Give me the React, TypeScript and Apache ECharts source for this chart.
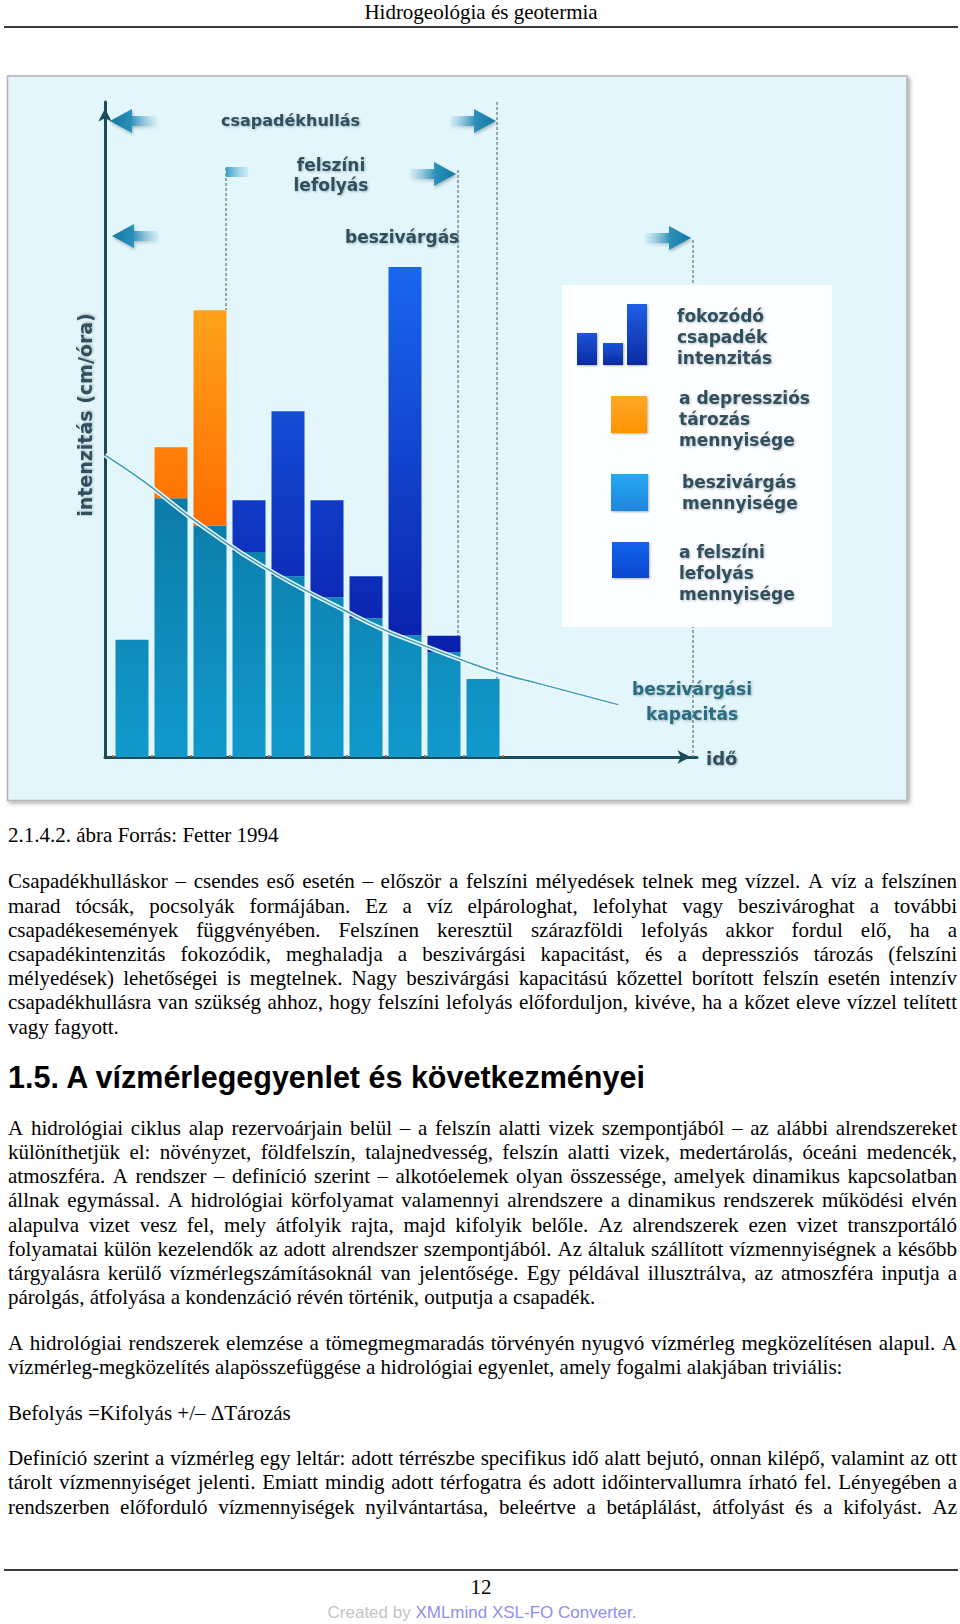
import React, { useEffect, useRef } from "react";
import * as echarts from "echarts";

// ---------------- chart data ----------------
const timeSteps = ["t1", "t2", "t3", "t4", "t5", "t6", "t7", "t8", "t9", "t10"];
const infiltration = [17.9, 39.5, 35.3, 31.3, 27.6, 24.4, 21.2, 18.6, 16.0, 11.9];
const depressionStorage = [0, 7.8, 32.9, 0, 0, 0, 0, 0, 0, 0];
const surfaceRunoff = [0, 0, 0, 7.9, 25.2, 14.8, 6.4, 56.2, 2.5, 0];
const capacityTime = [0, 1, 2, 3, 4, 5, 6, 7, 8, 9, 10, 11, 12, 13];
const capacityValues = [46.1, 42.0, 37.3, 33.0, 29.1, 25.7, 22.6, 19.6, 17.2, 14.9, 12.8, 11.2, 9.6, 8.0];

const seriesNames = ["beszivárgás mennyisége", "a depressziós tározás mennyisége", "a felszíni lefolyás mennyisége", "beszivárgási kapacitás"];
const legendLabels = ["fokozódó\ncsapadék\nintenzitás", "a depressziós\ntározás\nmennyisége", "beszivárgás\nmennyisége", "a felszíni\nlefolyás\nmennyisége"];
const phaseLabels = ["csapadékhullás", "felszíni\nlefolyás", "beszivárgás", "beszivárgási\nkapacitás"];
const axisTitleY = "intenzitás (cm/óra)";
const axisTitleX = "idő";

// ---------------- page text ----------------
const headerText = "Hidrogeológia és geotermia";
const caption = "2.1.4.2. ábra Forrás: Fetter 1994";
const para1 = [
  "Csapadékhulláskor – csendes eső esetén – először a felszíni mélyedések telnek meg vízzel. A víz a felszínen",
  "marad tócsák, pocsolyák formájában. Ez a víz elpárologhat, lefolyhat vagy beszivároghat a további",
  "csapadékesemények függvényében. Felszínen keresztül szárazföldi lefolyás akkor fordul elő, ha a",
  "csapadékintenzitás fokozódik, meghaladja a beszivárgási kapacitást, és a depressziós tározás (felszíni",
  "mélyedések) lehetőségei is megtelnek. Nagy beszivárgási kapacitású kőzettel borított felszín esetén intenzív",
  "csapadékhullásra van szükség ahhoz, hogy felszíni lefolyás előforduljon, kivéve, ha a kőzet eleve vízzel telített",
  "vagy fagyott.",
];
const heading = "1.5. A vízmérlegegyenlet és következményei";
const para2 = [
  "A hidrológiai ciklus alap rezervoárjain belül – a felszín alatti vizek szempontjából – az alábbi alrendszereket",
  "különíthetjük el: növényzet, földfelszín, talajnedvesség, felszín alatti vizek, medertárolás, óceáni medencék,",
  "atmoszféra. A rendszer – definíció szerint – alkotóelemek olyan összessége, amelyek dinamikus kapcsolatban",
  "állnak egymással. A hidrológiai körfolyamat valamennyi alrendszere a dinamikus rendszerek működési elvén",
  "alapulva vizet vesz fel, mely átfolyik rajta, majd kifolyik belőle. Az alrendszerek ezen vizet transzportáló",
  "folyamatai külön kezelendők az adott alrendszer szempontjából. Az általuk szállított vízmennyiségnek a később",
  "tárgyalásra kerülő vízmérlegszámításoknál van jelentősége. Egy példával illusztrálva, az atmoszféra inputja a",
  "párolgás, átfolyása a kondenzáció révén történik, outputja a csapadék.",
];
const para3 = [
  "A hidrológiai rendszerek elemzése a tömegmegmaradás törvényén nyugvó vízmérleg megközelítésen alapul. A",
  "vízmérleg-megközelítés alapösszefüggése a hidrológiai egyenlet, amely fogalmi alakjában triviális:",
];
const para4 = ["Befolyás =Kifolyás +/– ΔTározás"];
const para5 = [
  "Definíció szerint a vízmérleg egy leltár: adott térrészbe specifikus idő alatt bejutó, onnan kilépő, valamint az ott",
  "tárolt vízmennyiséget jelenti. Emiatt mindig adott térfogatra és adott időintervallumra írható fel. Lényegében a",
  "rendszerben előforduló vízmennyiségek nyilvántartása, beleértve a betáplálást, átfolyást és a kifolyást. Az",
];
const pageNumber = "12";
const footerA = "Created by ";
const footerB = "XMLmind XSL-FO Converter.";

// ---------------- helpers ----------------
const SERIF = "'Liberation Serif', 'Times New Roman', serif";
const SANS = "'Liberation Sans', Arial, sans-serif";
const VERD = "'DejaVu Sans', Verdana, sans-serif";
const BODY_SIZE = 21;
const LEFT = 8;
const RIGHT = 957;
const LH = 24.2;

let ctx: CanvasRenderingContext2D | null = null;
function measure(t: string, size: number, family: string, weight = "normal") {
  if (!ctx) ctx = document.createElement("canvas").getContext("2d");
  ctx!.font = `${weight} ${size}px ${family}`;
  return ctx!.measureText(t).width;
}

function textEl(text: string, x: number, y: number, extra: any = {}) {
  return {
    type: "text",
    x,
    y,
    silent: true,
    z: 20,
    style: {
      text,
      fill: "#000",
      fontSize: BODY_SIZE,
      fontFamily: SERIF,
      verticalAlign: "middle",
      textVerticalAlign: "middle",
      ...extra,
    },
  };
}

function lineEls(line: string, y: number, justify: boolean): any[] {
  if (!justify) return [textEl(line, LEFT, y)];
  const words = line.split(" ");
  const widths = words.map((w) => measure(w, BODY_SIZE, SERIF));
  const total = widths.reduce((a, b) => a + b, 0);
  const avail = RIGHT - LEFT;
  const spaceW = measure(" ", BODY_SIZE, SERIF);
  let gap = (avail - total) / (words.length - 1);
  let scale = 1;
  if (gap < spaceW * 0.6) {
    scale = avail / (total + spaceW * 0.6 * (words.length - 1));
    gap = spaceW * 0.6;
  }
  const children: any[] = [];
  let x = 0;
  words.forEach((w, i) => {
    children.push(textEl(w, x, 0));
    x += widths[i] + gap;
  });
  return [{ type: "group", x: LEFT, y, scaleX: scale, children }];
}

function paragraph(lines: string[], y0: number, lastJustified = false): any[] {
  const out: any[] = [];
  lines.forEach((l, i) => {
    const justify = i < lines.length - 1 || lastJustified;
    out.push(...lineEls(l, y0 + i * LH, justify));
  });
  return out;
}

function arrow(tipX: number, tipY: number, dir: number) {
  const hl = 22, hh = 12, th = 5, len = 46;
  const pts = [[0, 0], [hl, -hh], [hl, -th], [len, -th], [len, th], [hl, th], [hl, hh]].map(([dx, dy]) => [tipX - dir * dx, tipY + dy]);
  const stops = [
    { offset: 0, color: "#16789f" },
    { offset: 0.45, color: "#2a8fba" },
    { offset: 1, color: "rgba(150,205,228,0.15)" },
  ];
  return {
    type: "polygon",
    z: 6,
    silent: true,
    shape: { points: pts },
    style: {
      fill: dir < 0 ? new echarts.graphic.LinearGradient(0, 0, 1, 0, stops) : new echarts.graphic.LinearGradient(1, 0, 0, 0, stops),
      shadowBlur: 3,
      shadowColor: "rgba(0,0,0,0.25)",
      shadowOffsetX: 1,
      shadowOffsetY: 2,
    },
  };
}

function dashed(x: number, y1: number, y2: number) {
  return {
    type: "line",
    z: 1,
    silent: true,
    shape: { x1: x, y1, x2: x, y2 },
    style: { stroke: "#6f8f96", lineWidth: 1.5, lineDash: [3, 2] },
  };
}

const annoStyle = {
  fontFamily: VERD,
  fontWeight: "bold",
  fill: "#30505f",
  textShadowColor: "rgba(40,60,70,0.35)",
  textShadowBlur: 2,
  textShadowOffsetX: 1,
  textShadowOffsetY: 1,
};

function anno(text: string, x: number, y: number, size: number, extra: any = {}) {
  return {
    type: "text",
    x,
    y,
    z: 12,
    silent: true,
    style: { text, fontSize: size, ...annoStyle, verticalAlign: "middle", textVerticalAlign: "middle", ...extra },
  };
}

function vgrad(c1: string, c2: string) {
  return new echarts.graphic.LinearGradient(0, 0, 0, 1, [
    { offset: 0, color: c1 },
    { offset: 1, color: c2 },
  ]);
}

export default function App() {
  const ref = useRef<HTMLDivElement>(null);
  useEffect(() => {
    const chart = echarts.init(ref.current!, null, { renderer: "svg" });

    const tealGrad = { type: "linear", x: 0, y: 450, x2: 0, y2: 757, global: true, colorStops: [{ offset: 0, color: "#0b76a1" }, { offset: 1, color: "#1199cc" }] };
    const orangeGrad = { type: "linear", x: 0, y: 300, x2: 0, y2: 530, global: true, colorStops: [{ offset: 0, color: "#ffa51c" }, { offset: 1, color: "#ff6c00" }] };
    const blueGrad = { type: "linear", x: 0, y: 260, x2: 0, y2: 650, global: true, colorStops: [{ offset: 0, color: "#1a68ef" }, { offset: 1, color: "#0a20ac" }] };

    const capacityData = capacityTime.map((t, i) => [t, capacityValues[i]]);
    const dashOrNull = (arr: number[]) => arr.map((v) => (v ? v : "-"));

    const graphics: any[] = [
      // page header
      textEl(headerText, 481, 12, { align: "center", textAlign: "center" }),
      { type: "line", silent: true, z: 20, shape: { x1: 4, y1: 27, x2: 958, y2: 27 }, style: { stroke: "#3a3a3a", lineWidth: 2 } },
      // chart frame
      {
        type: "rect",
        z: -10,
        silent: true,
        shape: { x: 7.5, y: 76, width: 899.5, height: 724.5 },
        style: { fill: "#e2f6fc", stroke: "#b4b4b4", lineWidth: 1.5, shadowBlur: 4, shadowColor: "rgba(0,0,0,0.35)", shadowOffsetX: 2, shadowOffsetY: 2 },
      },
      // dashed guide lines
      dashed(226, 168, 310),
      dashed(458, 170, 636),
      dashed(497, 102, 679),
      dashed(693, 240, 757),
      // arrows
      arrow(110, 121, -1),
      arrow(112, 236, -1),
      arrow(496, 121, 1),
      arrow(456, 174, 1),
      arrow(691, 238, 1),
      {
        type: "rect",
        z: 6,
        silent: true,
        shape: { x: 226, y: 167, width: 22, height: 10 },
        style: { fill: new echarts.graphic.LinearGradient(0, 0, 1, 0, [{ offset: 0, color: "#3a9cc3" }, { offset: 1, color: "rgba(150,210,232,0.3)" }]) },
      },
      // phase labels
      anno(phaseLabels[0], 221, 120, 16),
      anno(phaseLabels[1], 331, 155, 17, { align: "center", textAlign: "center", verticalAlign: "top", textVerticalAlign: "top", lineHeight: 20 }),
      anno(phaseLabels[2], 345, 237, 17),
      anno(phaseLabels[3], 692, 676, 17, { align: "center", textAlign: "center", verticalAlign: "top", textVerticalAlign: "top", lineHeight: 25, fill: "#2b6d82" }),
      anno(axisTitleX, 706, 758, 18),
      {
        type: "text",
        x: 85,
        y: 415,
        rotation: Math.PI / 2,
        z: 12,
        silent: true,
        style: { text: axisTitleY, fontSize: 19, ...annoStyle, align: "center", textAlign: "center", verticalAlign: "middle", textVerticalAlign: "middle" },
      },
      // legend box
      { type: "rect", z: 8, silent: true, shape: { x: 562, y: 285, width: 270, height: 342 }, style: { fill: "#fdfeff" } },
      { type: "rect", z: 9, silent: true, shape: { x: 577, y: 333, width: 20, height: 32 }, style: { fill: vgrad("#1b55da", "#0b2a9f"), shadowBlur: 2, shadowColor: "rgba(0,0,0,0.3)", shadowOffsetX: 1, shadowOffsetY: 1 } },
      { type: "rect", z: 9, silent: true, shape: { x: 603, y: 343, width: 20, height: 22 }, style: { fill: vgrad("#1b55da", "#0b2a9f"), shadowBlur: 2, shadowColor: "rgba(0,0,0,0.3)", shadowOffsetX: 1, shadowOffsetY: 1 } },
      { type: "rect", z: 9, silent: true, shape: { x: 627, y: 304, width: 20, height: 61 }, style: { fill: vgrad("#1f5fe6", "#0b2a9f"), shadowBlur: 2, shadowColor: "rgba(0,0,0,0.3)", shadowOffsetX: 1, shadowOffsetY: 1 } },
      { type: "rect", z: 9, silent: true, shape: { x: 611, y: 396, width: 36, height: 37 }, style: { fill: vgrad("#ffa828", "#ff9400"), shadowBlur: 2, shadowColor: "rgba(0,0,0,0.3)", shadowOffsetX: 1, shadowOffsetY: 1 } },
      { type: "rect", z: 9, silent: true, shape: { x: 611, y: 474, width: 37, height: 37 }, style: { fill: vgrad("#26a9f2", "#1f86de"), shadowBlur: 2, shadowColor: "rgba(0,0,0,0.3)", shadowOffsetX: 1, shadowOffsetY: 1 } },
      { type: "rect", z: 9, silent: true, shape: { x: 612, y: 542, width: 37, height: 36 }, style: { fill: vgrad("#1363ec", "#0a47cd"), shadowBlur: 2, shadowColor: "rgba(0,0,0,0.3)", shadowOffsetX: 1, shadowOffsetY: 1 } },
      anno(legendLabels[0], 677, 305.5, 17, { verticalAlign: "top", textVerticalAlign: "top", lineHeight: 21 }),
      anno(legendLabels[1], 679, 387.5, 17, { verticalAlign: "top", textVerticalAlign: "top", lineHeight: 21 }),
      anno(legendLabels[2], 682, 471.5, 17, { verticalAlign: "top", textVerticalAlign: "top", lineHeight: 21 }),
      anno(legendLabels[3], 679, 541.5, 17, { verticalAlign: "top", textVerticalAlign: "top", lineHeight: 21 }),
      // document text
      textEl(caption, LEFT, 834.7),
      ...paragraph(para1, 881.3),
      textEl(heading, LEFT, 1077, { fontFamily: SANS, fontWeight: "bold", fontSize: 30.5 }),
      ...paragraph(para2, 1127.8),
      ...paragraph(para3, 1343.2),
      ...paragraph(para4, 1412.6),
      ...paragraph(para5, 1458.1, true),
      // footer
      { type: "line", silent: true, z: 20, shape: { x1: 4, y1: 1570, x2: 958, y2: 1570 }, style: { stroke: "#3a3a3a", lineWidth: 2 } },
      textEl(pageNumber, 481, 1586.5, { align: "center", textAlign: "center" }),
      {
        type: "text",
        x: 482,
        y: 1612.4,
        z: 20,
        silent: true,
        style: {
          text: `{a|${footerA}}{b|${footerB}}`,
          align: "center",
          textAlign: "center",
          verticalAlign: "middle",
          textVerticalAlign: "middle",
          rich: {
            a: { fontFamily: SANS, fontSize: 17, fill: "#c4c4c4", color: "#c4c4c4" },
            b: { fontFamily: SANS, fontSize: 17, fill: "#8f8fee", color: "#8f8fee" },
          },
        },
      },
    ];

    const axisArrowLine = {
      show: true,
      symbol: ["none", "arrow"],
      symbolSize: [10, 13],
      symbolOffset: [0, -6.5],
      lineStyle: { color: "#1c4c5c", width: 3 },
    };

    const option: any = {
      animation: false,
      backgroundColor: "#ffffff",
      grid: [
        { left: 105, top: 102, width: 592, height: 655, containLabel: false },
        { left: 112.5, top: 102, width: 390, height: 655, containLabel: false },
      ],
      xAxis: [
        { gridIndex: 0, type: "value", min: 0, max: 15, axisLine: axisArrowLine, axisTick: { show: false }, axisLabel: { show: false }, splitLine: { show: false } },
        {
          gridIndex: 1,
          type: "category",
          data: timeSteps,
          axisLine: { show: false },
          axisTick: { show: true, length: 2, inside: true, lineStyle: { color: "#b9763f", width: 2 } },
          axisLabel: { show: false },
          splitLine: { show: false },
        },
      ],
      yAxis: [
        { gridIndex: 0, type: "value", min: 0, max: 100, axisLine: axisArrowLine, axisTick: { show: false }, axisLabel: { show: false }, splitLine: { show: false } },
        { gridIndex: 1, type: "value", min: 0, max: 100, show: false, splitLine: { show: false } },
      ],
      series: [
        { name: seriesNames[0], type: "bar", xAxisIndex: 1, yAxisIndex: 1, stack: "rain", barWidth: 33, data: infiltration, itemStyle: { color: tealGrad }, z: 2 },
        { name: seriesNames[1], type: "bar", xAxisIndex: 1, yAxisIndex: 1, stack: "rain", barWidth: 33, data: dashOrNull(depressionStorage), itemStyle: { color: orangeGrad }, z: 2 },
        { name: seriesNames[2], type: "bar", xAxisIndex: 1, yAxisIndex: 1, stack: "rain", barWidth: 33, data: dashOrNull(surfaceRunoff), itemStyle: { color: blueGrad }, z: 2 },
        {
          name: seriesNames[3] + " ",
          type: "line",
          xAxisIndex: 0,
          yAxisIndex: 0,
          smooth: true,
          symbol: "none",
          data: capacityData,
          lineStyle: { color: "rgba(240,252,255,0.95)", width: 4.5 },
          z: 4,
          silent: true,
        },
        {
          name: seriesNames[3],
          type: "line",
          xAxisIndex: 0,
          yAxisIndex: 0,
          smooth: true,
          symbol: "none",
          data: capacityData,
          lineStyle: { color: "#3a9bb8", width: 1.5 },
          z: 5,
          silent: true,
        },
      ],
      graphic: graphics,
    };

    chart.setOption(option);
    return () => chart.dispose();
  }, []);

  return <div ref={ref} style={{ position: "absolute", left: 0, top: 0, width: 960, height: 1624, background: "#fff" }} />;
}
